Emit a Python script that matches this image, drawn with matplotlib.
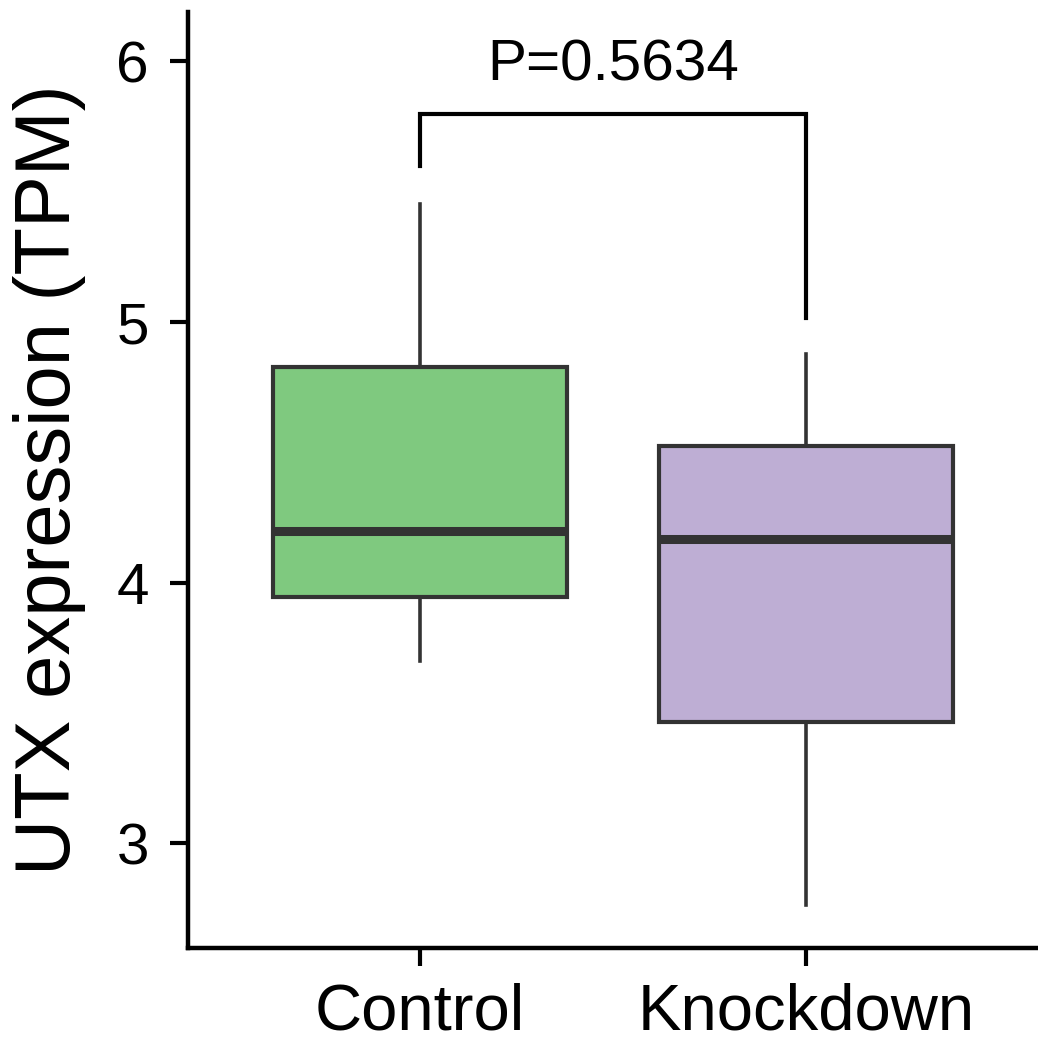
import matplotlib
matplotlib.use("Agg")
import matplotlib.pyplot as plt

plt.rcParams['font.family'] = ['Liberation Sans', 'DejaVu Sans']

groups = ["Control", "Knockdown"]
q1 = [3.944, 3.464]
med = [4.198, 4.167]
q3 = [4.827, 4.524]
whislo = [3.70, 2.762]
whishi = [5.453, 4.877]
colors = ["#7FC97F", "#BEAED4"]
p_text = "P=0.5634"
bracket_top = 5.80
bracket_legs = [5.60, 5.015]

fig = plt.figure(figsize=(10.38, 10.44), dpi=100)
ax = fig.add_axes([188/1038, 96/1044, 850/1038, 936/1044])

stats = []
for i in range(len(groups)):
    stats.append({"label": groups[i], "q1": q1[i], "med": med[i], "q3": q3[i],
                  "whislo": whislo[i], "whishi": whishi[i], "fliers": []})

bp = ax.bxp(stats, positions=[1, 2], widths=0.76, patch_artist=True, showcaps=False,
            boxprops=dict(linewidth=3, edgecolor="#333333"),
            medianprops=dict(linewidth=6.5, color="#333333", solid_capstyle="butt"),
            whiskerprops=dict(linewidth=2.6, color="#333333"))
for patch, c in zip(bp["boxes"], colors):
    patch.set_facecolor(c)

# significance bracket
ax.plot([1, 1, 2, 2], [bracket_legs[0], bracket_top, bracket_top, bracket_legs[1]],
        color="black", linewidth=3, solid_joinstyle="miter")
ax.text(1.5, 5.88, p_text, ha="center", va="bottom", fontsize=42)

ax.set_xlim(0.4, 2.6)
ax.set_ylim(2.597, 6.19)
ax.set_yticks([3, 4, 5, 6])
ax.set_xticks([1, 2])
ax.set_xticklabels(groups)
ax.set_ylabel("UTX expression (TPM)", fontsize=56, labelpad=22)

ax.spines["top"].set_visible(False)
ax.spines["right"].set_visible(False)
ax.spines["left"].set_linewidth(3.2)
ax.spines["bottom"].set_linewidth(3.2)
ax.tick_params(axis="both", width=3, length=13, labelsize=42, color="black")
ax.tick_params(axis="x", labelsize=47, pad=12)
ax.tick_params(axis="y", pad=15)

fig.savefig("out.png", dpi=100)
